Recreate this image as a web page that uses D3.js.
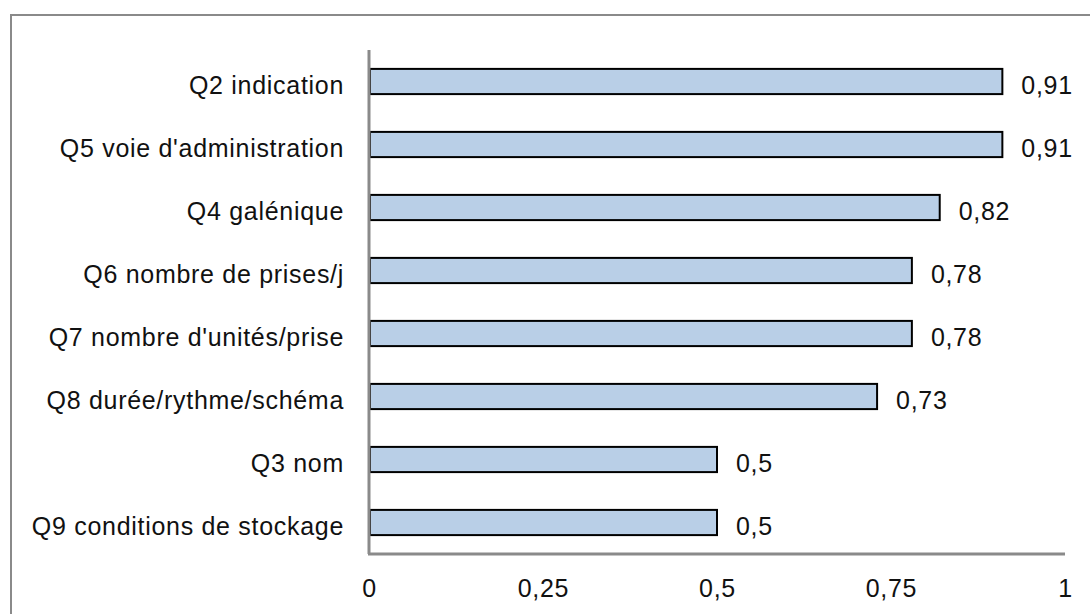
<!DOCTYPE html>
<html>
<head>
<meta charset="utf-8">
<script src="https://cdn.jsdelivr.net/npm/d3@7"></script>
<style>
  html, body { margin: 0; padding: 0; background: #fff; }
  svg { display: block; }
  text { font-family: "Liberation Sans", Arial, Helvetica, sans-serif; fill: #111; letter-spacing: 0.7px; }
</style>
</head>
<body>
<svg id="chart" width="1090" height="614"></svg>
<script>
// Share of correct answers per question
const categories = [
  "Q2 indication",
  "Q5 voie d'administration",
  "Q4 galénique",
  "Q6 nombre de prises/j",
  "Q7 nombre d'unités/prise",
  "Q8 durée/rythme/schéma",
  "Q3 nom",
  "Q9 conditions de stockage"
];
const values = [0.91, 0.91, 0.82, 0.78, 0.78, 0.73, 0.5, 0.5];
const tickValues = [0, 0.25, 0.5, 0.75, 1];
const tickLabels = ["0", "0,25", "0,5", "0,75", "1"];

const svg = d3.select("#chart");
const W = 1090, H = 614;
const plot = { left: 369, right: 1065, top: 50, bottom: 554 };
const fontSize = 25;

// outer frame
svg.append("rect")
  .attr("x", 11).attr("y", 15)
  .attr("width", W + 20).attr("height", H + 20)
  .attr("fill", "none")
  .attr("stroke", "#8a8a8a")
  .attr("stroke-width", 2);

const x = d3.scaleLinear().domain([0, 1]).range([plot.left, plot.right]);
const y = d3.scaleBand().domain(categories).range([plot.top, plot.bottom]).paddingInner(0.6).paddingOuter(0.3);

// bars
svg.append("g").selectAll("rect")
  .data(categories)
  .join("rect")
  .attr("x", x(0) + 1)
  .attr("y", d => y(d))
  .attr("width", (d, i) => x(values[i]) - x(0) - 1)
  .attr("height", y.bandwidth())
  .attr("fill", "#b9cfe7")
  .attr("stroke", "#000")
  .attr("stroke-width", 2);

// value labels
const fmt = v => String(v).replace(".", ",");
svg.append("g").selectAll("text")
  .data(categories)
  .join("text")
  .attr("x", (d, i) => x(values[i]) + 19)
  .attr("y", d => y(d) + y.bandwidth() / 2)
  .attr("dy", "0.5em")
  .attr("font-size", fontSize)
  .text((d, i) => fmt(values[i]));

// category axis
const yAxis = d3.axisLeft(y).tickSize(0).tickPadding(25);
const gy = svg.append("g").attr("transform", `translate(${plot.left},0)`).call(yAxis);
gy.select(".domain").attr("stroke", "#8a8a8a").attr("stroke-width", 3)
  .attr("d", `M0,${plot.top}V${plot.bottom}`);
gy.selectAll("text").attr("font-size", fontSize).attr("font-family", null).attr("fill", null)
  .attr("dy", "0.5em");

// value axis
const xAxis = d3.axisBottom(x).tickValues(tickValues).tickFormat((d, i) => tickLabels[i]).tickSize(0).tickPadding(25);
const gx = svg.append("g").attr("transform", `translate(0,${plot.bottom})`).call(xAxis);
gx.select(".domain").attr("stroke", "#8a8a8a").attr("stroke-width", 3)
  .attr("d", `M${plot.left - 1},0H${plot.right}`);
gx.selectAll("text").attr("font-size", fontSize).attr("font-family", null).attr("fill", null);
</script>
</body>
</html>
